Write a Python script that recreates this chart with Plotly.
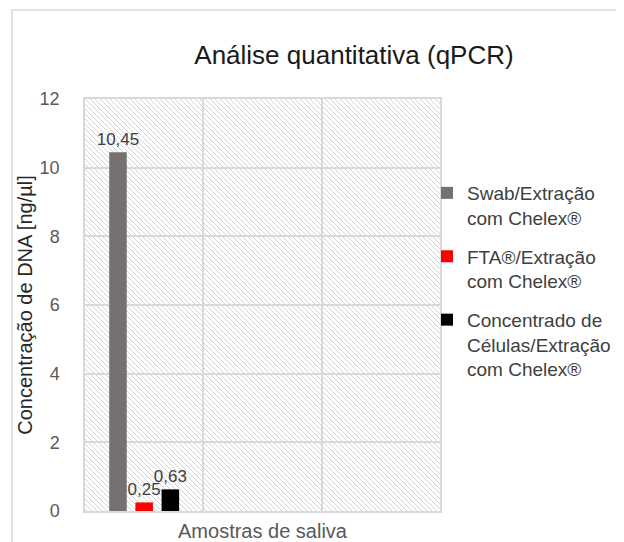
import base64
import plotly.graph_objects as go

# ---- data ----
series_names = [
    "Swab/Extração<br>com Chelex®",
    "FTA®/Extração<br>com Chelex®",
    "Concentrado de<br>Células/Extração<br>com Chelex®",
]
series_values = [10.45, 0.25, 0.63]
series_colors = ["#767171", "#FF0000", "#000000"]
category_positions = [0]  # single category "Amostras de saliva" in first of three slots

title_text = "Análise quantitativa (qPCR)"
y_title = "Concentração de DNA [ng/µl]"
x_title = "Amostras de saliva"
y_ticks = [0, 2, 4, 6, 8, 10, 12]

FONT = "Liberation Sans, Arial, sans-serif"

# page has an 8px body margin, so the figure is drawn 8px shorter/narrower
OFF = 8
W, H = 624 - OFF, 542 - OFF
ML, MR, MT, MB = 85 - OFF, 624 - 440, 99 - OFF, 542 - 511
PW, PH = W - ML - MR, H - MT - MB
PB = H - MB  # plot bottom in figure pixels


def px_x(x):  # page pixel -> paper x
    return (x - OFF - ML) / PW


def px_y(y):  # page pixel -> paper y
    return (PB - (y - OFF)) / PH


# hatched background for plot area (SVG pattern)
svg = f'''<svg xmlns="http://www.w3.org/2000/svg" width="{PW}" height="{PH}">
<defs><pattern id="p" patternUnits="userSpaceOnUse" width="5" height="5">
<path d="M-1,-1 L6,6 M-1,4 L1,6 M4,-1 L6,1" stroke="#d4d4d4" stroke-width="1"/>
</pattern></defs>
<rect width="{PW}" height="{PH}" fill="white"/>
<rect width="{PW}" height="{PH}" fill="url(#p)"/>
</svg>'''
svg_uri = "data:image/svg+xml;base64," + base64.b64encode(svg.encode()).decode()

fig = go.Figure()
for i, (name, val, col) in enumerate(zip(series_names, series_values, series_colors)):
    fig.add_trace(go.Bar(
        x=category_positions, y=[val], name=name,
        marker=dict(color=col, line=dict(width=0)),
        texttemplate="%{y:.2f}", textposition="outside",
        textfont=dict(family=FONT, size=17, color="#404040"),
        constraintext="none", cliponaxis=False,
        legendgroup=f"g{i}",
    ))

fig.update_layout(
    width=W, height=H,
    margin=dict(l=ML, r=MR, t=MT, b=MB, autoexpand=False),
    paper_bgcolor="white", plot_bgcolor="rgba(0,0,0,0)",
    separators=",.",
    barmode="group", bargap=0.336, bargroupgap=0.33,
    font=dict(family=FONT, color="#595959"),
    title=dict(text=title_text, x=(354 - OFF) / W, xref="container", xanchor="center",
               y=1 - (55 - OFF) / H, yref="container", yanchor="middle",
               font=dict(family=FONT, size=26, color="#1a1a1a")),
    showlegend=True,
    legend=dict(x=px_x(427), xanchor="left", y=px_y(174), yanchor="top",
                font=dict(family=FONT, size=19, color="#404040"),
                valign="top", tracegroupgap=11, itemclick=False,
                bgcolor="rgba(0,0,0,0)"),
    images=[dict(source=svg_uri, xref="paper", yref="paper", x=0, y=1,
                 sizex=1, sizey=1, xanchor="left", yanchor="top",
                 sizing="stretch", layer="below")],
    shapes=[dict(type="rect", xref="paper", yref="paper",
                 x0=px_x(12), x1=px_x(640),
                 y0=px_y(560), y1=px_y(10),
                 line=dict(color="#d9d9d9", width=1.5), fillcolor="rgba(0,0,0,0)",
                 layer="below")],
)

fig.update_xaxes(
    range=[-0.5, 2.5], tickvals=[0.5, 1.5], showticklabels=False, ticks="",
    showgrid=True, gridcolor="#d9d9d9", gridwidth=1.5, zeroline=False,
    showline=True, mirror=True, linecolor="#d9d9d9", linewidth=1.5,
    title=dict(text=x_title, standoff=12, font=dict(family=FONT, size=20, color="#595959")),
    fixedrange=True,
)
fig.update_yaxes(
    range=[0, 12], tickvals=y_ticks, ticks="", ticklabelstandoff=20,
    tickfont=dict(family=FONT, size=18, color="#595959"),
    showgrid=True, gridcolor="#d9d9d9", gridwidth=1.5, zeroline=False,
    showline=True, mirror=True, linecolor="#d9d9d9", linewidth=1.5,
    title=dict(text=y_title, standoff=2, font=dict(family=FONT, size=20, color="#262626")),
    fixedrange=True,
)

fig.write_html("out.html")
